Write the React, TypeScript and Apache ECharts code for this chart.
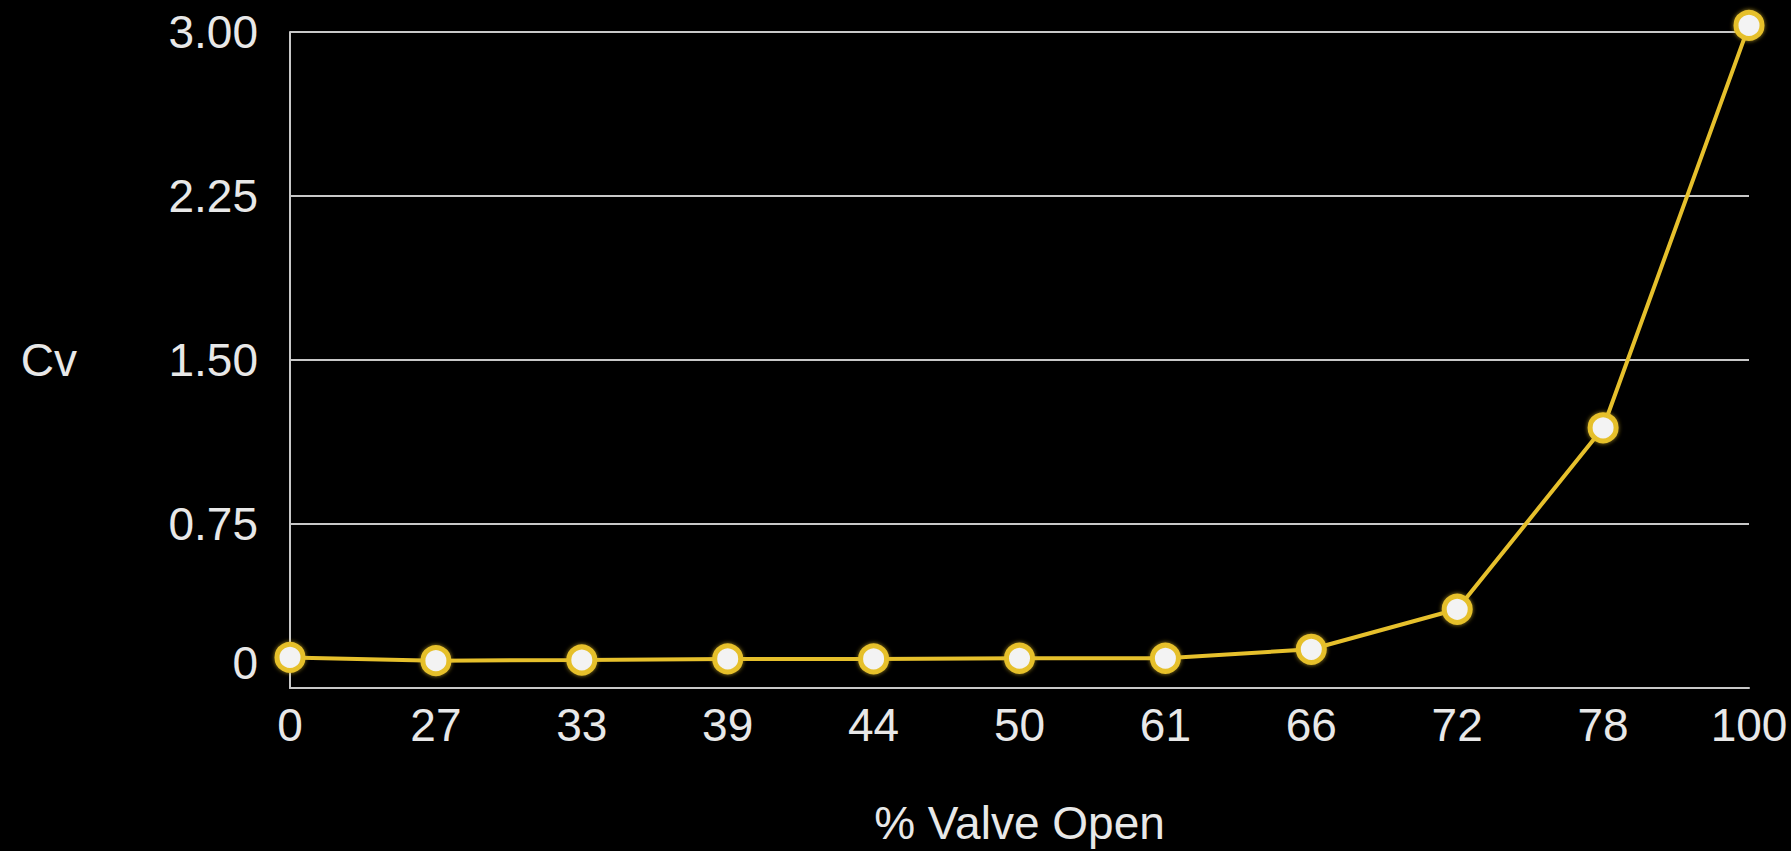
import React, { useEffect, useRef } from "react";
import * as echarts from "echarts";

const categories = ["0", "27", "33", "39", "44", "50", "61", "66", "72", "78", "100"];
const cvValues = [0.14, 0.125, 0.128, 0.133, 0.133, 0.136, 0.136, 0.177, 0.36, 1.19, 3.03];
const yTicks = { min: 0, max: 3, interval: 0.75 };
const xTitle = "% Valve Open";
const yTitle = "Cv";

export default function App() {
  const ref = useRef<HTMLDivElement>(null);
  useEffect(() => {
    document.body.style.margin = "0";
    document.body.style.background = "#000";
    const chart = echarts.init(ref.current!, null, { renderer: "svg" });
    const font = "'Liberation Sans', Arial, Helvetica, sans-serif";
    const textColor = "#e8e8e8";
    const gridColor = "#c8c8c8";
    const yellow = "#e6c02c";
    chart.setOption({
      animation: false,
      backgroundColor: "#000",
      grid: { left: 290, right: 42, top: 32, bottom: 163, containLabel: false },
      xAxis: {
        type: "category",
        data: categories,
        boundaryGap: false,
        name: xTitle,
        nameLocation: "middle",
        nameGap: 112,
        nameTextStyle: { color: textColor, fontSize: 46, fontFamily: font },
        axisLine: { show: true, lineStyle: { color: gridColor, width: 2 } },
        axisTick: { show: false },
        axisLabel: { color: textColor, fontSize: 46, fontFamily: font, margin: 14 },
        splitLine: { show: false },
      },
      yAxis: {
        type: "value",
        min: yTicks.min,
        max: yTicks.max,
        interval: yTicks.interval,
        name: yTitle,
        nameLocation: "middle",
        nameRotate: 0,
        nameGap: 213,
        nameTextStyle: { color: textColor, fontSize: 46, fontFamily: font, align: "right", verticalAlign: "middle" },
        axisLine: { show: true, lineStyle: { color: gridColor, width: 2 } },
        axisTick: { show: false },
        axisLabel: {
          color: textColor,
          fontSize: 46,
          fontFamily: font,
          margin: 32,
          formatter: (v: number) => (v === 0 ? "{z|0}" : v.toFixed(2)),
          rich: {
            z: { color: textColor, fontSize: 46, fontFamily: font, padding: [0, 0, 50, 0] },
          },
        },
        splitLine: { show: true, lineStyle: { color: gridColor, width: 2 } },
      },
      series: [
        {
          type: "line",
          data: cvValues,
          clip: false,
          symbol: "circle",
          symbolSize: 26,
          lineStyle: { color: yellow, width: 4 },
          itemStyle: {
            color: "#f3f3f3",
            borderColor: yellow,
            borderWidth: 5,
            shadowColor: "rgba(230,192,44,0.7)",
            shadowBlur: 4,
          },
        },
      ],
    });
    return () => chart.dispose();
  }, []);
  return <div ref={ref} style={{ width: 1791, height: 851, background: "#000" }} />;
}
